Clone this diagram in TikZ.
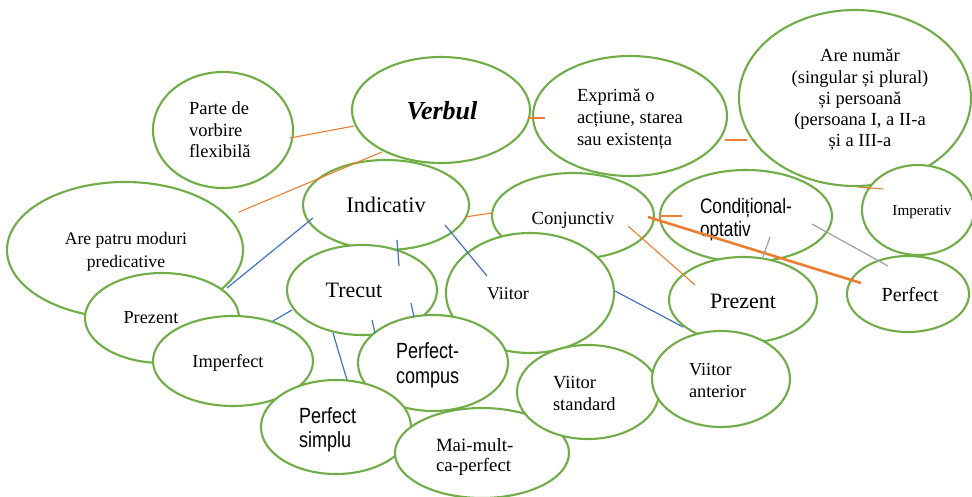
\documentclass[tikz,border=0pt]{standalone}
\usepackage{fontspec}
\setmainfont{Liberation Serif}
\newfontfamily\narrowsans[FakeStretch=0.82]{Liberation Sans}
\usetikzlibrary{shapes.geometric}
\definecolor{grn}{HTML}{70AD47}
\definecolor{org}{HTML}{ED7D31}
\definecolor{blu}{HTML}{4472C4}
\definecolor{gry}{HTML}{A5A5A5}
\newcommand\fsz[2]{\fontsize{#1}{#2}\selectfont}
\tikzset{
  bub/.style={ellipse, draw=grn, line width=2.1pt, fill=white, inner sep=0pt},
  txt/.style={inner sep=0pt, outer sep=0pt},
  orl/.style={draw=org, line width=1.1pt},
  orthick/.style={draw=org, line width=2.6pt},
  bll/.style={draw=blu, line width=1.2pt},
  grl/.style={draw=gry, line width=1.3pt},
}
\begin{document}
\begin{tikzpicture}[x=1pt,y=-1pt]
\useasboundingbox (0,0) rectangle (972,497);
\fill[white] (0,0) rectangle (972,497);
% ellipses
\node[bub, minimum width=236pt, minimum height=136pt] (patru) at (125,250) {};
\node[bub, minimum width=140pt, minimum height=116pt] (parte) at (223,130) {};
\node[bub, minimum width=178pt, minimum height=106pt] (verbul) at (441,110) {};
\node[bub, minimum width=194pt, minimum height=120pt] (exprima) at (630,116) {};
\node[bub, minimum width=232pt, minimum height=176pt] (numar) at (855,98) {};
\node[bub, minimum width=112pt, minimum height=90pt] (imper) at (918,210) {};
\node[bub, minimum width=166pt, minimum height=90pt] (indic) at (386,205) {};
\node[bub, minimum width=162pt, minimum height=86pt] (conj) at (573,216) {};
\node[bub, minimum width=172pt, minimum height=92pt] (cond) at (746,216) {};
\node[bub, minimum width=122pt, minimum height=76pt] (perfr) at (908,294) {};
\node[bub, minimum width=148pt, minimum height=86pt] (prezr) at (743,300) {};
\node[bub, minimum width=168pt, minimum height=120pt] (viitor) at (530,293) {};
\node[bub, minimum width=150pt, minimum height=90pt] (trecut) at (362,290) {};
\node[bub, minimum width=154pt, minimum height=90pt] (prezl) at (162,318) {};
\node[bub, minimum width=160pt, minimum height=90pt] (imperf) at (233,361) {};
\node[bub, minimum width=150pt, minimum height=96pt] (pcomp) at (433,363) {};
\node[bub, minimum width=150pt, minimum height=94pt] (psimp) at (336,427) {};
\node[bub, minimum width=174pt, minimum height=90pt] (maimult) at (482,453) {};
\node[bub, minimum width=142pt, minimum height=94pt] (vstd) at (588,392) {};
\node[bub, minimum width=138pt, minimum height=96pt] (vant) at (721,379) {};
% texts (multi-line nodes are placed by the baseline of their last line)
\node[txt, anchor=base, font=\fsz{17.6}{22}, align=center] (patru-t) at (126,267) {Are patru moduri\\predicative};
\node[txt, anchor=base west, font=\fsz{18.5}{21.5}, align=left] (parte-t) at (189,158) {Parte de\\vorbire\\flexibilă};
\node[txt, anchor=base, font=\fsz{26}{30}\bfseries\itshape] (verbul-t) at (442,120) {Verbul};
\node[txt, anchor=base west, font=\fsz{18.5}{21.7}, align=left] (exprima-t) at (577,145.4) {Exprimă o\\acțiune, starea\\sau existența};
\node[txt, anchor=base, font=\fsz{18.5}{21.2}, align=center] (numar-t) at (860,146.8) {Are număr\\(singular și plural)\\și persoană\\(persoana I, a II-a\\și a III-a};
\node[txt, anchor=base, font=\fsz{15.2}{18}] (imper-t) at (922,216) {Imperativ};
\node[txt, anchor=base, font=\fsz{22.3}{26}] (indic-t) at (386,213) {Indicativ};
\node[txt, anchor=base, font=\fsz{18.6}{22}] (conj-t) at (573,225) {Conjunctiv};
\node[txt, anchor=base west, font=\fsz{21}{22.5}\narrowsans, align=left] (cond-t) at (700,236.5) {Condițional-\\optativ};
\node[txt, anchor=base, font=\fsz{22}{26}] (trecut-t) at (354,297) {Trecut};
\node[txt, anchor=base, font=\fsz{18}{22}] (viitor-t) at (508,299) {Viitor};
\node[txt, anchor=base, font=\fsz{22}{26}] (prezr-t) at (743,308) {Prezent};
\node[txt, anchor=base, font=\fsz{20}{24}] (perfr-t) at (910,301) {Perfect};
\node[txt, anchor=base, font=\fsz{18.3}{22}] (prezl-t) at (151,323) {Prezent};
\node[txt, anchor=base, font=\fsz{18.3}{22}] (imperf-t) at (228,367) {Imperfect};
\node[txt, anchor=base west, font=\fsz{22}{25}\narrowsans, align=left] (pcomp-t) at (396,383) {Perfect-\\compus};
\node[txt, anchor=base west, font=\fsz{22}{24.5}\narrowsans, align=left] (psimp-t) at (299,447.5) {Perfect\\simplu};
\node[txt, anchor=base west, font=\fsz{18.5}{22}, align=left] (vstd-t) at (553,410) {Viitor\\standard};
\node[txt, anchor=base west, font=\fsz{18.3}{22}, align=left] (vant-t) at (689,397) {Viitor\\anterior};
\node[txt, anchor=base west, font=\fsz{18.8}{20}, align=left] (maimult-t) at (436,471) {Mai-mult-\\ca-perfect};
% connector end points
\coordinate (o1a) at (290,138); \coordinate (o1b) at (354,126);
\coordinate (o2a) at (239,212); \coordinate (o2b) at (382,152);
\coordinate (o3a) at (528,118); \coordinate (o3b) at (545,118);
\coordinate (o4a) at (725,140); \coordinate (o4b) at (747,140);
\coordinate (o5a) at (858,187); \coordinate (o5b) at (883,189);
\coordinate (o6a) at (465,217); \coordinate (o6b) at (492,213);
\coordinate (o7a) at (660,216); \coordinate (o7b) at (682,216);
\coordinate (o8a) at (628,226); \coordinate (o8b) at (695,285);
\coordinate (t1a) at (648,217); \coordinate (t1b) at (861,283);
\coordinate (g1a) at (770,237); \coordinate (g1b) at (763,257);
\coordinate (g2a) at (812,224); \coordinate (g2b) at (888,266);
\coordinate (b1a) at (313,218); \coordinate (b1b) at (227,288);
\coordinate (b2a) at (397,240); \coordinate (b2b) at (399,266);
\coordinate (b3a) at (445,225); \coordinate (b3b) at (487,276);
\coordinate (b4a) at (292,310); \coordinate (b4b) at (273,321);
\coordinate (b5a) at (333,333); \coordinate (b5b) at (347,380);
\coordinate (b6a) at (372,320); \coordinate (b6b) at (375,333);
\coordinate (b7a) at (411,303); \coordinate (b7b) at (414,317);
\coordinate (b8a) at (615,291); \coordinate (b8b) at (683,327);
% connectors
\draw[orl] (o1a) -- (o1b);
\draw[orl] (o2a) -- (o2b);
\draw[orl] (o3a) -- (o3b);
\draw[orl] (o4a) -- (o4b);
\draw[orl] (o5a) -- (o5b);
\draw[orl] (o6a) -- (o6b);
\draw[orl] (o7a) -- (o7b);
\draw[orl] (o8a) -- (o8b);
\draw[orthick] (t1a) -- (t1b);
\draw[grl] (g1a) -- (g1b);
\draw[grl] (g2a) -- (g2b);
\draw[bll] (b1a) -- (b1b);
\draw[bll] (b2a) -- (b2b);
\draw[bll] (b3a) -- (b3b);
\draw[bll] (b4a) -- (b4b);
\draw[bll] (b5a) -- (b5b);
\draw[bll] (b6a) -- (b6b);
\draw[bll] (b7a) -- (b7b);
\draw[bll] (b8a) -- (b8b);
\end{tikzpicture}
\end{document}
